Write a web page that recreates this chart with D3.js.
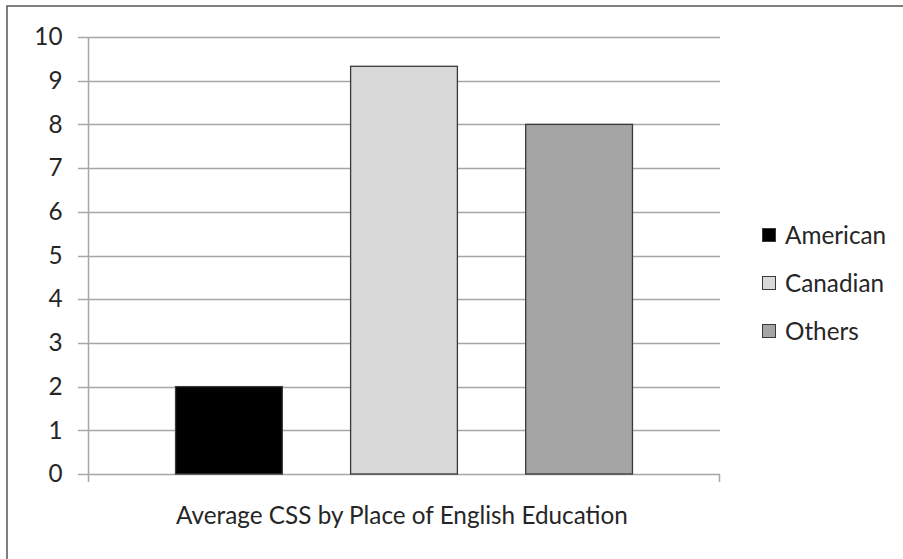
<!DOCTYPE html>
<html><head><meta charset="utf-8">
<script src="https://cdn.jsdelivr.net/npm/d3@7"></script>
<style>html,body{margin:0;padding:0;background:#fff;}svg{display:block;}</style>
</head><body>
<svg id="c" width="903" height="559"></svg>
<script>
const category = "Average CSS by Place of English Education";
const seriesNames = ["American", "Canadian", "Others"];
const seriesValues = [2, 9.33, 8];
const seriesColors = ["#000000", "#d9d9d9", "#a5a5a5"];
const yTicks = [0,1,2,3,4,5,6,7,8,9,10];

const FONT = "Lato, 'Open Sans', sans-serif";
const svg = d3.select("#c");
const W = 903, H = 559;
const plot = {left: 88, right: 720, top: 37, bottom: 474};

// outer border (only top/left visible in reference)
svg.append("rect").attr("x", 7).attr("y", 6).attr("width", W + 20).attr("height", H + 20)
  .attr("fill", "#fff").attr("stroke", "#555").attr("stroke-width", 1.5);

const y = d3.scaleLinear().domain([0, 10]).range([plot.bottom, plot.top]);
const x0 = d3.scaleBand().domain([category]).range([plot.left, plot.right]).padding(0);
const x1 = d3.scaleBand().domain(seriesNames).range([x0(category), x0(category) + x0.bandwidth()])
  .paddingInner(0.39).paddingOuter(0.5);

// gridlines
svg.append("g").selectAll("line").data(yTicks).join("line")
  .attr("x1", plot.left - 10).attr("x2", plot.right)
  .attr("y1", d => Math.round(y(d)) + 0.5).attr("y2", d => Math.round(y(d)) + 0.5)
  .attr("stroke", "#a6a6a6").attr("stroke-width", 1.5);

// y axis
const yAxis = svg.append("g").attr("transform", `translate(${plot.left + 0.5},0)`)
  .call(d3.axisLeft(y).tickValues(yTicks).tickSize(10).tickPadding(16).tickFormat(d3.format("d")));
yAxis.select(".domain").attr("stroke", "#a6a6a6").attr("stroke-width", 1.5)
  .attr("d", `M0,${plot.top}V${plot.bottom + 8}`);
yAxis.selectAll(".tick line").attr("stroke", "none");
yAxis.selectAll("text").attr("font-family", FONT).attr("font-size", 18).attr("fill", "#262626");

// x axis end tick at right
svg.append("line").attr("x1", plot.right - 0.5).attr("x2", plot.right - 0.5)
  .attr("y1", plot.bottom).attr("y2", plot.bottom + 8).attr("stroke", "#a6a6a6").attr("stroke-width", 1.5);

// bars
svg.append("g").selectAll("rect").data(seriesNames).join("rect")
  .attr("x", d => x1(d)).attr("width", x1.bandwidth())
  .attr("y", (d, i) => y(seriesValues[i])).attr("height", (d, i) => y(0) - y(seriesValues[i]))
  .attr("fill", (d, i) => seriesColors[i]).attr("stroke", "#3a3a3a").attr("stroke-width", 1.3);

// category label
const lab = svg.append("text").attr("x", x0(category) + x0.bandwidth() / 2 - 2).attr("y", 524)
  .attr("text-anchor", "middle").attr("font-family", FONT).attr("font-size", 18).attr("fill", "#262626")
  .text(category);
const lw = lab.node().getComputedTextLength();
const fs = 18 * 452 / lw;
lab.attr("font-size", fs);
yAxis.selectAll("text").attr("font-size", fs);

// legend
const lg = svg.append("g").selectAll("g").data(seriesNames).join("g")
  .attr("transform", (d, i) => `translate(762,${235 + i * 48})`);
lg.append("rect").attr("x", 0.5).attr("y", -6.5).attr("width", 13).attr("height", 13)
  .attr("fill", (d, i) => seriesColors[i]).attr("stroke", "#3a3a3a").attr("stroke-width", 1);
lg.append("text").attr("x", 23).attr("y", 0).attr("dy", "0.35em")
  .attr("font-family", FONT).attr("font-size", fs).attr("fill", "#262626").text(d => d);
</script>
</body></html>
